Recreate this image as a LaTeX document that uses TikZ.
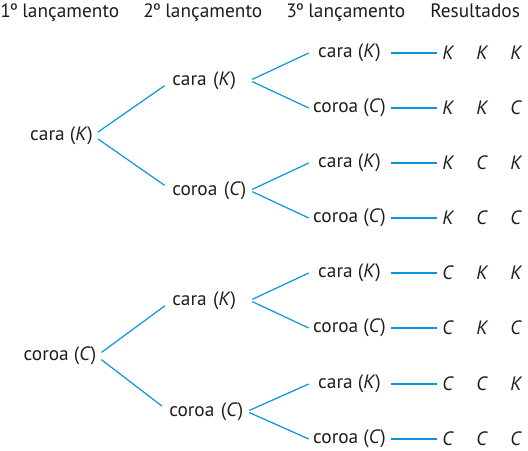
\documentclass[tikz,border=0pt]{standalone}
\usepackage{fontspec}
\setmainfont{PT Sans}
\usetikzlibrary{positioning}
\definecolor{azulramo}{RGB}{10,150,220}
\definecolor{texto}{RGB}{30,28,28}
\newcommand{\resul}[3]{\makebox[25.5pt][l]{\textit{#1}}\makebox[25.5pt][l]{\textit{#2}}\textit{#3}}
\newcommand{\ordo}{\kern-0.5pt º\kern-0.5pt}

\begin{document}
\begin{tikzpicture}[x=0.75pt, y=-0.75pt,
  every node/.style={text=texto, font=\fontsize{14.5}{17}\selectfont, inner sep=0pt},
  head/.style={anchor=base west},
  nivel2/.style={anchor=west, text width=58pt, align=left},
  nivel3/.style={minimum width=60.75pt},
  resbox/.style={anchor=west},
  ramo1/.style={draw=azulramo, line width=0.9pt, shorten <=4.5pt, shorten >=6.75pt},
  ramo2/.style={draw=azulramo, line width=0.9pt, shorten <=2pt},
  haste/.style={draw=azulramo, line width=0.9pt, shorten <=0.75pt, shorten >=3.75pt}
]
  \useasboundingbox (0,0) rectangle (528,450);

  % cabecalho
  \node[head] (h1) at (0,17.5)   {1\ordo{} lançamento};
  \node[head] (h2) at (143,17.5) {2\ordo{} lançamento};
  \node[head] (h3) at (286,17.5) {3\ordo{} lançamento};
  \node[head] (h4) at (430,17.5) {Resultados};

  % 1o lancamento
  \node (a1) at (61.5,135.5) {cara (\textit{K})};
  \node (a2) at (60,356)     {coroa (\textit{C})};

  % 2o lancamento
  \node[nivel2] (b1) at (172,80.5)  {cara (\textit{K})};
  \node[nivel2] (b2) at (172,190.5) {coroa (\textit{C})};
  \node[nivel2] (b3) at (172,300.5) {cara (\textit{K})};
  \node[nivel2] (b4) at (169,411.5) {coroa (\textit{C})};

  % 3o lancamento
  \node[nivel3] (c1) at (349.5,53)  {cara (\textit{K})};
  \node[nivel3] (c2) at (349.5,108) {coroa (\textit{C})};
  \node[nivel3] (c3) at (349.5,163) {cara (\textit{K})};
  \node[nivel3] (c4) at (349.5,218) {coroa (\textit{C})};
  \node[nivel3] (c5) at (349.5,273) {cara (\textit{K})};
  \node[nivel3] (c6) at (349.5,328) {coroa (\textit{C})};
  \node[nivel3] (c7) at (349.5,384) {cara (\textit{K})};
  \node[nivel3] (c8) at (349.5,439) {coroa (\textit{C})};

  % resultados
  \node[resbox] (r1) at (442,53)  {\resul{K}{K}{K}};
  \node[resbox] (r2) at (442,108) {\resul{K}{K}{C}};
  \node[resbox] (r3) at (442,163) {\resul{K}{C}{K}};
  \node[resbox] (r4) at (442,218) {\resul{K}{C}{C}};
  \node[resbox] (r5) at (442,273) {\resul{C}{K}{K}};
  \node[resbox] (r6) at (442,328) {\resul{C}{K}{C}};
  \node[resbox] (r7) at (442,384) {\resul{C}{C}{K}};
  \node[resbox] (r8) at (442,439) {\resul{C}{C}{C}};

  \draw[ramo1] (a1.east) -- (b1.west);
  \draw[ramo1] (a1.east) -- (b2.west);
  \draw[ramo1] (a2.east) -- (b3.west);
  \draw[ramo1] (a2.east) -- (b4.west);

  \draw[ramo2] (b1.east) -- (c1.west);
  \draw[ramo2] (b1.east) -- (c2.west);
  \draw[ramo2] (b2.east) -- (c3.west);
  \draw[ramo2] (b2.east) -- (c4.west);
  \draw[ramo2] (b3.east) -- (c5.west);
  \draw[ramo2] (b3.east) -- (c6.west);
  \draw[ramo2] (b4.east) -- (c7.west);
  \draw[ramo2] (b4.east) -- (c8.west);

  \draw[haste] (c1.east) -- (r1.west);
  \draw[haste] (c2.east) -- (r2.west);
  \draw[haste] (c3.east) -- (r3.west);
  \draw[haste] (c4.east) -- (r4.west);
  \draw[haste] (c5.east) -- (r5.west);
  \draw[haste] (c6.east) -- (r6.west);
  \draw[haste] (c7.east) -- (r7.west);
  \draw[haste] (c8.east) -- (r8.west);
\end{tikzpicture}
\end{document}
